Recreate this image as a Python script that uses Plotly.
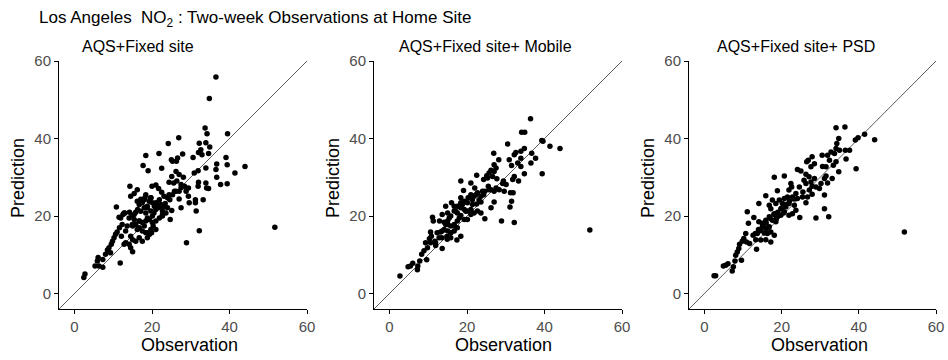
import plotly.graph_objects as go

W, H = 948, 360

title_text = "Los Angeles\u00a0\u00a0NO<sub>2</sub> : Two-week Observations at Home Site"
panel_titles = ["AQS+Fixed site", "AQS+Fixed site+ Mobile", "AQS+Fixed site+ PSD"]
tick_vals = [0, 20, 40, 60]

# Panel 1: AQS+Fixed site
obs1 = [36.5, 34.8, 51.7, 28.9, 32.2, 11.8, 39.5, 33.7, 34.2, 26.9, 24.2, 32.2, 33.9, 34.9, 32.6, 32.0,
        32.9, 30.6, 34.6, 18.4, 21.8, 27.9, 26.6, 25.0, 25.3, 39.1, 44.0, 41.4, 39.4, 36.7, 36.5, 33.9,
        31.9, 30.9, 17.7, 19.0, 22.5, 26.3, 36.7, 37.7, 39.4, 33.9, 34.1, 34.6, 32.0, 31.9, 28.1, 27.0,
        26.2, 25.1, 24.4, 25.6, 26.4, 27.5, 28.4, 29.4, 28.8, 27.0, 25.8, 24.4, 24.6, 23.4, 27.0, 29.4,
        29.6, 31.2, 31.2, 33.2, 31.4, 27.5, 25.1, 24.7, 14.3, 16.2, 18.4, 18.2, 20.0, 21.0, 21.7, 22.5,
        23.1, 10.8, 11.5, 12.5, 13.0, 14.2, 14.8, 15.4, 15.8, 16.3, 16.7, 17.1, 17.5, 18.0, 18.4, 18.8,
        19.3, 19.7, 20.1, 20.6, 21.0, 21.4, 21.9, 22.3, 22.7, 23.2, 23.6, 24.0, 19.7, 20.1, 19.3, 18.4,
        17.5, 16.7, 15.8, 15.0, 16.7, 17.5, 18.4, 19.3, 19.7, 20.3, 21.0, 21.9, 22.7, 16.7, 15.8, 15.0,
        14.5, 15.0, 14.1, 13.2, 12.8, 17.5, 18.8, 19.9, 21.0, 11.0, 10.6, 10.2, 9.8, 9.5, 8.9, 8.5,
        9.3, 8.0, 7.3, 6.1, 5.9, 5.3, 6.3, 7.3, 2.7, 2.4, 11.6, 12.3, 13.6, 13.2, 12.1, 15.4, 14.5,
        16.2, 18.0, 19.7, 21.0, 22.3, 18.8, 17.1, 15.4, 20.5, 22.7, 18.8, 16.7, 14.9, 18.0, 20.1, 16.2,
        18.8, 14.1, 12.8, 11.9, 24.0, 25.3, 26.2, 27.5, 14.5, 21.4]
pred1 = [55.9, 50.3, 17.1, 13.1, 16.2, 7.9, 41.2, 42.7, 41.2, 40.2, 38.7, 38.8, 38.9, 37.8, 37.1, 36.4,
         35.8, 35.1, 36.1, 35.6, 36.1, 36.0, 35.0, 34.5, 34.1, 35.1, 32.8, 31.1, 33.2, 33.4, 32.0, 32.4,
         31.7, 31.1, 33.0, 31.7, 32.3, 34.1, 30.0, 28.1, 28.3, 28.5, 27.2, 27.1, 28.7, 27.7, 30.0, 30.7,
         31.5, 30.2, 28.7, 28.5, 29.0, 28.1, 27.7, 27.2, 26.4, 26.4, 26.4, 25.5, 24.2, 23.2, 24.4, 25.1,
         23.4, 24.2, 23.4, 24.2, 21.3, 22.1, 21.4, 19.1, 27.7, 26.8, 25.5, 24.8, 27.7, 28.0, 27.1, 26.1,
         25.1, 22.3, 19.7, 20.4, 20.8, 21.0, 20.0, 19.1, 21.0, 21.7, 23.0, 24.3, 23.4, 22.1, 20.8, 22.5,
         23.8, 24.7, 23.4, 22.5, 21.7, 22.9, 24.2, 22.1, 21.3, 22.5, 20.8, 22.1, 21.3, 20.0, 19.1, 18.7,
         18.3, 18.7, 17.8, 17.4, 17.0, 16.1, 15.7, 15.2, 16.5, 17.4, 18.7, 19.5, 20.0, 14.4, 13.5, 13.9,
         11.8, 10.8, 12.7, 13.1, 12.7, 13.5, 14.4, 15.7, 16.5, 15.9, 15.3, 14.4, 13.5, 12.7, 11.8, 11.2,
         10.5, 10.1, 8.8, 9.3, 8.4, 7.1, 7.1, 6.8, 5.0, 4.1, 17.0, 17.8, 17.4, 16.1, 14.8, 25.8, 25.1,
         23.8, 24.2, 24.7, 23.4, 23.0, 22.1, 21.2, 20.4, 20.8, 20.4, 19.5, 18.7, 17.8, 17.4, 18.3, 16.5,
         15.7, 19.5, 20.8, 19.5, 24.7, 25.5, 26.4, 27.3, 14.8, 22.1]

# Panel 2: AQS+Fixed site+ Mobile
obs2 = [51.7, 36.4, 34.1, 34.9, 39.3, 39.6, 41.4, 44.0, 30.5, 26.9, 32.2, 32.6, 34.8, 33.9, 36.7, 37.7,
        36.5, 33.9, 33.1, 33.9, 34.8, 39.4, 31.5, 30.9, 28.2, 27.0, 27.5, 27.0, 26.2, 25.7, 25.1, 22.5,
        24.3, 25.3, 26.6, 27.7, 18.4, 21.0, 22.0, 32.2, 31.8, 33.3, 29.4, 29.2, 30.1, 25.5, 26.2, 27.0,
        28.3, 27.5, 24.6, 24.3, 23.6, 22.7, 21.8, 21.0, 20.3, 19.1, 27.0, 26.2, 24.6, 28.9, 32.2, 31.1,
        31.5, 31.9, 31.2, 29.6, 23.6, 22.5, 21.4, 20.1, 19.3, 18.4, 17.5, 18.4, 19.3, 20.1, 21.0, 21.8,
        22.7, 23.6, 21.0, 20.1, 19.3, 18.4, 17.5, 16.7, 15.8, 15.0, 14.5, 16.0, 16.7, 11.1, 11.3, 12.9,
        14.1, 15.0, 15.8, 16.7, 17.5, 17.5, 16.7, 15.8, 15.0, 14.1, 13.2, 12.3, 13.5, 14.8, 15.8, 17.4,
        18.4, 10.6, 10.8, 10.3, 10.6, 11.7, 11.9, 13.6, 9.3, 9.8, 8.9, 8.3, 9.6, 7.8, 7.3, 7.2,
        6.0, 5.4, 4.8, 2.7, 15.0, 13.6,
        20.5, 22.3, 24.0, 18.8, 17.1, 19.7, 15.4, 18.0, 21.4, 14.5, 16.7, 13.6, 15.8, 12.8, 14.9, 11.9,
        23.1, 25.7, 18.4]
pred2 = [16.4, 45.1, 41.6, 41.6, 39.5, 39.3, 38.0, 37.4, 38.6, 36.2, 35.8, 36.4, 37.4, 36.7, 36.2, 34.9,
         33.7, 34.9, 33.7, 32.8, 30.9, 30.9, 33.0, 34.5, 34.5, 33.2, 32.4, 31.5, 31.8, 31.1, 30.4, 30.5,
         29.4, 29.8, 30.2, 29.6, 29.0, 28.5, 27.2, 30.2, 29.4, 29.0, 29.0, 28.4, 28.1, 27.7, 26.8, 26.4,
         26.8, 27.2, 26.4, 25.5, 25.1, 26.0, 25.1, 25.5, 24.7, 26.6, 23.6, 22.1, 19.3, 18.7, 18.3, 22.3,
         23.8, 26.0, 26.0, 26.4, 23.6, 23.1, 24.2, 23.4, 23.8, 23.4, 22.5, 22.1, 21.7, 21.3, 21.7, 20.8,
         21.3, 20.8, 20.4, 19.1, 19.1, 20.1, 20.8, 21.3, 20.0, 18.7, 22.5, 23.4, 22.5, 19.7, 18.7, 18.7,
         18.4, 17.8, 17.4, 17.8, 18.7, 17.0, 16.1, 15.7, 16.1, 16.5, 15.9, 15.7, 14.4, 14.7, 14.4, 13.8,
         14.8, 15.9, 14.8, 14.1, 13.1, 13.5, 12.4, 11.6, 13.1, 11.8, 11.0, 10.1, 8.7, 8.4, 7.1, 6.1,
         7.8, 7.1, 6.9, 4.5, 20.8, 20.4,
         24.7, 25.5, 26.4, 23.0, 21.2, 21.2, 19.5, 19.5, 23.0, 17.8, 17.4, 16.1, 15.7, 14.4, 14.0, 13.1,
         24.2, 26.8, 24.7]

# Panel 3: AQS+Fixed site+ PSD
obs3 = [51.8, 36.4, 34.1, 41.5, 44.1, 39.8, 39.1, 39.3, 37.6, 36.7, 36.5, 34.8, 34.3, 34.1, 35.0, 33.7,
        32.8, 31.9, 30.5, 32.4, 33.4, 34.8, 34.1, 31.5, 30.6, 27.9, 26.9, 26.5, 28.5, 27.6, 24.1, 25.0,
        26.3, 27.1, 25.8, 26.3, 28.5, 27.6, 30.2, 31.1, 31.5, 33.1, 31.9, 29.8, 28.9, 27.9, 27.2, 25.5,
        24.6, 23.7, 22.4, 22.6, 21.9, 20.7, 18.1, 18.9, 15.9, 21.5, 20.7, 22.8, 24.1, 25.4, 26.7, 27.9,
        26.3, 31.1, 31.1, 32.2, 28.9, 24.7, 22.8, 21.9, 21.1, 20.2, 19.4, 18.5, 19.8, 20.7, 19.8, 18.9,
        18.1, 17.2, 16.8, 17.6, 23.3, 21.9, 23.7, 18.5, 17.6, 16.8, 15.9, 15.0, 14.1, 11.1, 11.4, 12.8,
        14.1, 15.0, 15.9, 16.8, 17.2, 16.3, 15.5, 14.6, 13.7, 12.6, 13.3, 14.6, 15.9, 17.2, 18.1, 10.7,
        10.2, 10.9, 11.7, 9.8, 13.5, 9.1, 8.9, 8.5, 8.1, 9.6, 7.9, 7.5, 7.2, 6.1, 5.5, 4.9,
        2.5, 2.9,
        14.0, 15.2, 16.0, 17.0, 18.0, 19.0, 20.0, 21.0, 22.0, 16.5, 18.6, 13.2, 20.5, 23.2]
pred3 = [15.9, 43.0, 42.8, 41.1, 39.7, 40.2, 39.6, 32.2, 37.0, 34.7, 37.0, 40.0, 38.7, 37.4, 37.0, 36.1,
         36.5, 35.7, 35.7, 34.4, 33.1, 31.4, 34.0, 32.7, 32.8, 35.3, 34.4, 34.0, 33.5, 32.7, 32.0, 31.6,
         30.8, 30.1, 29.2, 28.4, 29.7, 28.8, 28.4, 29.7, 30.3, 29.7, 28.5, 27.1, 27.5, 27.7, 26.7, 26.2,
         27.5, 25.8, 28.4, 27.5, 26.7, 30.3, 30.0, 26.5, 25.2, 24.9, 24.5, 24.9, 24.5, 24.9, 24.9, 25.6,
         23.4, 25.4, 21.9, 19.8, 19.5, 19.6, 20.6, 20.2, 22.4, 23.2, 24.1, 23.2, 21.9, 21.1, 20.2, 19.8,
         20.6, 21.9, 22.8, 24.1, 22.8, 23.2, 21.5, 18.5, 18.9, 19.8, 18.9, 18.1, 18.5, 21.1, 18.1, 19.6,
         23.2, 17.2, 16.8, 17.2, 15.9, 15.5, 15.6, 16.2, 15.5, 15.0, 13.9, 13.8, 13.9, 13.3, 15.0, 15.5,
         14.2, 13.3, 12.9, 13.5, 11.4, 12.7, 11.6, 10.7, 9.9, 8.6, 8.4, 6.9, 5.8, 7.7, 7.3, 7.1,
         4.6, 4.6,
         16.5, 17.5, 18.2, 19.4, 20.4, 21.0, 22.0, 23.0, 23.8, 16.9, 19.2, 15.5, 20.8, 24.4]

obs_list = [obs1, obs2, obs3]
pred_list = [pred1, pred2, pred3]

# layout geometry (pixels)
x_doms = [(59, 307), (374, 622), (689, 936)]
y_dom = (61, 309)
ax_range = [-4, 60]

fig = go.Figure()
font_family = "Liberation Sans, Arial, sans-serif"

annotations = []
for i in range(3):
    xa = "x" if i == 0 else f"x{i+1}"
    ya = "y" if i == 0 else f"y{i+1}"
    # identity line
    fig.add_trace(go.Scatter(x=ax_range, y=ax_range, mode="lines", xaxis=xa, yaxis=ya,
                             line=dict(color="#333333", width=0.8), showlegend=False,
                             hoverinfo="skip"))
    fig.add_trace(go.Scatter(x=obs_list[i], y=pred_list[i], mode="markers", xaxis=xa, yaxis=ya,
                             marker=dict(color="black", size=5.5), showlegend=False,
                             cliponaxis=False))
    axis_common = dict(range=ax_range, tickvals=tick_vals, showgrid=False, zeroline=False,
                       showline=True, linecolor="black", linewidth=1, ticks="outside",
                       ticklen=4, tickcolor="black", tickwidth=1, automargin=False,
                       tickfont=dict(family=font_family, size=15, color="#4D4D4D"))
    xkey = "xaxis" if i == 0 else f"xaxis{i+1}"
    ykey = "yaxis" if i == 0 else f"yaxis{i+1}"
    fig.update_layout(**{
        xkey: dict(domain=[x_doms[i][0] / W, x_doms[i][1] / W], anchor=ya, **axis_common),
        ykey: dict(domain=[1 - y_dom[1] / H, 1 - y_dom[0] / H], anchor=xa, **axis_common),
    })
    off = [0, 315, 630][i]
    # panel title
    annotations.append(dict(text=panel_titles[i], x=[80, 397, 715][i] / W, y=1 - 47 / H,
                            xref="paper", yref="paper", xanchor="left", yanchor="middle",
                            showarrow=False, font=dict(family=font_family, size=16, color="black")))
    # x title
    annotations.append(dict(text="Observation", x=(off + 189) / W, y=1 - 345 / H,
                            xref="paper", yref="paper", xanchor="center", yanchor="middle",
                            showarrow=False, font=dict(family=font_family, size=18, color="black")))
    # y title
    annotations.append(dict(text="Prediction", x=(off + 18) / W, y=1 - 178 / H, textangle=-90,
                            xref="paper", yref="paper", xanchor="center", yanchor="middle",
                            showarrow=False, font=dict(family=font_family, size=18, color="black")))

annotations.append(dict(text=title_text, x=37 / W, y=1 - 19 / H, xref="paper", yref="paper",
                        xanchor="left", yanchor="middle", showarrow=False,
                        font=dict(family=font_family, size=17, color="black")))

fig.update_layout(width=W, height=H, margin=dict(l=0, r=0, t=0, b=0, autoexpand=False),
                  paper_bgcolor="white", plot_bgcolor="white", annotations=annotations,
                  showlegend=False)

fig.write_html("out.html")
